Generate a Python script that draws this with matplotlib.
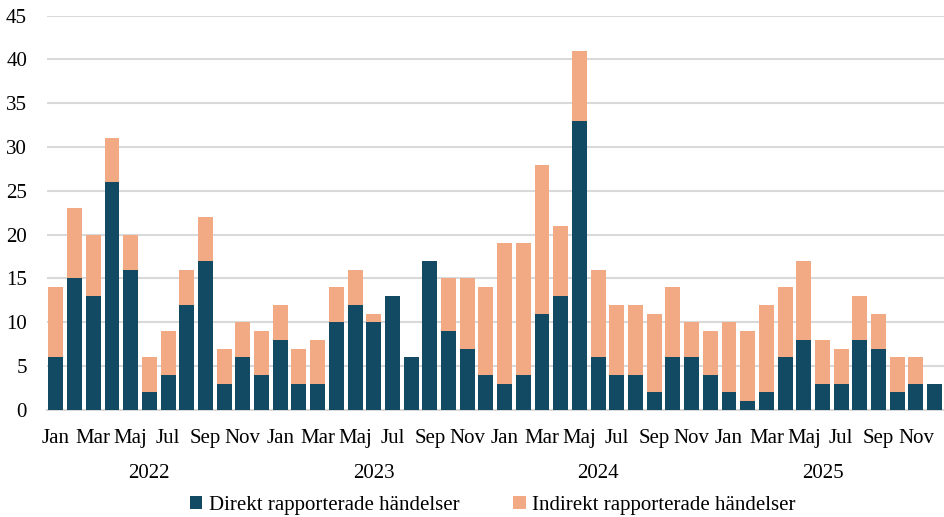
import numpy as np
import matplotlib.pyplot as plt

plt.rcParams['font.family'] = ['Liberation Serif', 'DejaVu Serif']

# Månadsdata jan 2022 - dec 2025
months = ['Jan', 'Feb', 'Mar', 'Apr', 'Maj', 'Jun', 'Jul', 'Aug', 'Sep', 'Okt', 'Nov', 'Dec']
years = ['2022', '2023', '2024', '2025']

direkt = [6, 15, 13, 26, 16, 2, 4, 12, 17, 3, 6, 4,
          8, 3, 3, 10, 12, 10, 13, 6, 17, 9, 7, 4,
          3, 4, 11, 13, 33, 6, 4, 4, 2, 6, 6, 4,
          2, 1, 2, 6, 8, 3, 3, 8, 7, 2, 3, 3]
totalt = [14, 23, 20, 31, 20, 6, 9, 16, 22, 7, 10, 9,
          12, 7, 8, 14, 16, 11, 13, 6, 17, 15, 15, 14,
          19, 19, 28, 21, 41, 16, 12, 12, 11, 14, 10, 9,
          10, 9, 12, 14, 17, 8, 7, 13, 11, 6, 6, 3]
indirekt = [t - d for t, d in zip(totalt, direkt)]

dark = '#124A63'
peach = '#F1AA84'

fig = plt.figure(figsize=(9.44, 5.17), dpi=100)
ax = fig.add_axes([0.0493, 0.207, 0.9507, 0.763])

x = np.arange(len(direkt))
ax.bar(x, direkt, width=0.8, color=dark, label='Direkt rapporterade händelser', zorder=3)
ax.bar(x, indirekt, width=0.8, bottom=direkt, color=peach,
       label='Indirekt rapporterade händelser', zorder=3)

ax.set_xlim(-0.5, len(direkt) - 0.5)
ax.set_ylim(0, 45)
ax.set_yticks(range(0, 46, 5))
ax.yaxis.grid(True, color='#d9d9d9', linewidth=1.5, zorder=0)
for s in ['top', 'right', 'left']:
    ax.spines[s].set_visible(False)
ax.spines['bottom'].set_color('#d9d9d9')
ax.spines['bottom'].set_linewidth(1.5)
ax.tick_params(axis='both', length=0, labelsize=15, colors='black')
ax.tick_params(axis='y', pad=14)

# månadsetiketter varannan månad
ax.set_xticks(x[::2])
ax.set_xticklabels([months[i % 12] for i in x[::2]])
ax.tick_params(axis='x', pad=14)

# årsetiketter
for k, yr in enumerate(years):
    ax.text(12 * k + 5, -7.3, yr, ha='center', va='center', fontsize=15,
            transform=ax.transData, clip_on=False)

fig.legend(loc='center', ncol=2, frameon=False, fontsize=15,
           handlelength=0.6, handleheight=0.6, handletextpad=0.3,
           columnspacing=2.6, bbox_to_anchor=(0.522, 0.022))

plt.savefig('out.png', dpi=100)
